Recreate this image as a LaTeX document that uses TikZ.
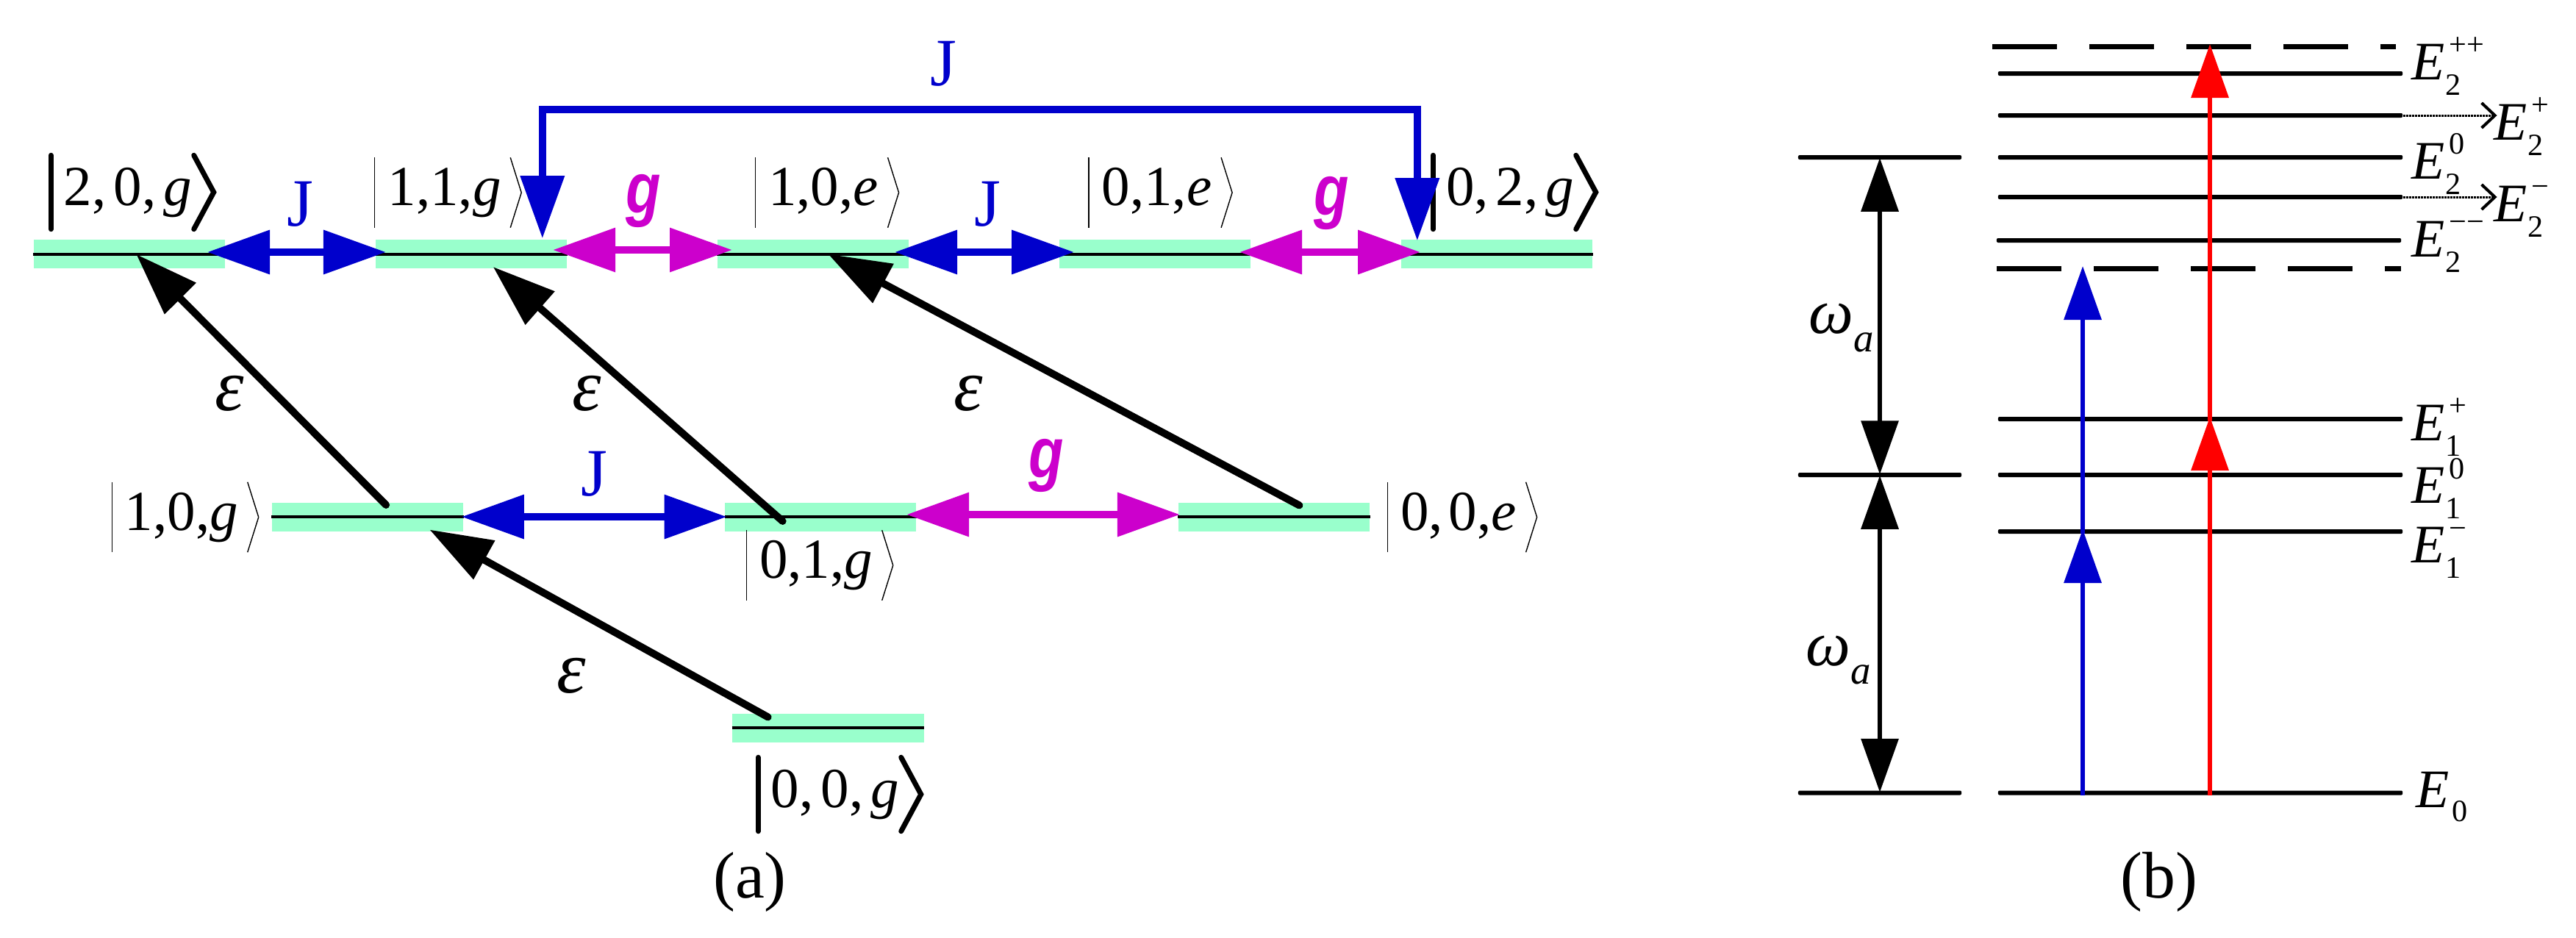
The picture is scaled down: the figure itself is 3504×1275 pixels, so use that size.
\documentclass[tikz,border=0pt]{standalone}
\usepackage{fontspec}
\setmainfont{Liberation Serif}
\usetikzlibrary{arrows.meta,calc}
\newfontfamily\gfamily[FakeStretch=.8]{Liberation Sans}
\definecolor{bandgreen}{HTML}{99FFCC}
\definecolor{jblue}{HTML}{0000CC}
\definecolor{gmagenta}{HTML}{CC00CC}
\newcommand{\ketfont}{\fontsize{21.9}{26}\selectfont}
\newcommand{\capfont}{\fontsize{25.5}{30}\selectfont}
\newcommand{\enfont}{\fontsize{21}{26}\selectfont}
\newcommand{\subfont}{\fontsize{12}{14}\selectfont}
\newcommand{\elev}[2]{\textit{E}\rlap{\kern.01cm\raisebox{-.21cm}{\subfont #1}}\kern.06cm\raisebox{.33cm}{\subfont #2}}
\newcommand{\wlab}{\fontsize{24.5}{28}\selectfont\textit{ω}\raisebox{-.25cm}{\fontsize{15.6}{18}\selectfont\textit{a}}}
\tikzstyle{band} = [fill=bandgreen, rectangle, inner sep=0,
    minimum height=.39cm, minimum width=2.6cm]
\tikzstyle{ket} = [inner xsep=.17cm, inner ysep=0, font=\ketfont, text height=.52cm, text depth=.17cm]
\tikzstyle{thinket} = [ket, minimum height=.94cm]
\tikzstyle{thickket} = [ket, minimum height=.99cm]
\tikzstyle{enline} = [fill=black, rectangle, inner sep=0, rounded corners=.02cm,
    minimum height=.06cm, minimum width=5.5cm]
\tikzstyle{wline} = [enline, minimum width=2.22cm]
\tikzstyle{endash} = [draw, line width=.07cm, dash pattern=on .88cm off .44cm]
\tikzstyle{enlabel} = [anchor=base west, inner sep=0, font=\enfont]
\tikzstyle{jlabel} = [inner sep=0, text=jblue, font=\fontsize{26.2}{30}\selectfont]
\tikzstyle{glabel} = [inner sep=0, text=gmagenta, font=\fontsize{27.6}{32}\selectfont\gfamily\bfseries\itshape]
\tikzstyle{elabel} = [inner sep=0, font=\fontsize{28.5}{32}\selectfont\itshape]
\tikzstyle{caption} = [inner sep=0, font=\capfont]
\tikzstyle{big} = [line width=.1cm, shorten >=-.03cm, shorten <=-.03cm, >={Triangle[length=.85cm,width=.58cm]}]
\tikzstyle{small} = [line width=.065cm, shorten >=-.03cm, shorten <=-.03cm, >={Triangle[length=.73cm,width=.5cm]}]
\tikzstyle{dots} = [line width=.03cm, dash pattern=on .03cm off .01cm,
    >={Straight Barb[length=.18cm,width=.34cm,line width=.04cm]}]

\begin{document}
\begin{tikzpicture}[x=.01cm, y=-.01cm, node distance=4.6475cm]
    \useasboundingbox (0,0) rectangle (3504,1275);
    % (a) bands
    \node [band] (t20) at (176,345.5) {};
    \node [band, right of=t20] (t11) {};
    \node [band, right of=t11] (t10) {};
    \node [band, right of=t10] (t01) {};
    \node [band, right of=t01] (t02) {};
    \node [band] (m10) at (500,703) {};
    \node [band, node distance=6.16cm, right of=m10] (m01) {};
    \node [band, node distance=6.16cm, right of=m01] (m00) {};
    \node [band] (b00) at (1126.5,990) {};
    \foreach \n in {t20,t11,t10,t01,t02,m10,m01,m00,b00}
        \draw [line width=.04cm] (\n.west) -- (\n.east);
    % kets
    \node [thickket] (k20) at (174,261.5) {2,\kern.1cm 0,\kern.1cm\textit{g}};
    \node [thinket] (k11) at (604.5,262) {1,1,\textit{g}};
    \node [thinket] (k10e) at (1120,262) {1,0,\textit{e}};
    \node [thinket] (k01e) at (1573.5,262) {0,1,\textit{e}};
    \node [thickket] (k02) at (2054,261.5) {0,\kern.1cm 2,\kern.1cm\textit{g}};
    \node [thinket] (k10g) at (247,703.5) {1,0,\textit{g}};
    \node [thinket] (k01g) at (1110,769) {0,1,\textit{g}};
    \node [thinket] (k00e) at (1984,703.5) {0,\kern.08cm 0,\textit{e}};
    \node [thickket] (k00g) at (1136,1080.5) {0,\kern.1cm 0,\kern.1cm\textit{g}};
    \foreach \n in {k11,k10e,k01e,k10g,k01g,k00e} {
        \draw [line width=.014cm] (\n.north west) -- (\n.south west);
        \draw [line width=.014cm] ([xshift=-.05cm]\n.north east) -- ([xshift=.1cm]\n.east) -- ([xshift=-.05cm]\n.south east);
    }
    \foreach \n in {k20,k02,k00g} {
        \draw [line width=.07cm, line cap=round] (\n.north west) -- (\n.south west);
        \draw [line width=.07cm, line cap=round] ([xshift=-.15cm]\n.north east) -- ([xshift=.12cm]\n.east) -- ([xshift=-.15cm]\n.south east);
    }
    % (a) couplings
    \draw [big, <->, jblue] ($(t20.center)+(109,-2.5)$) -- ($(t11.center)+(-119,-2.5)$);
    \draw [big, <->, gmagenta] ($(t11.center)+(114,-5.5)$) -- ($(t10.center)+(-113,-5.5)$);
    \draw [big, <->, jblue] ($(t10.center)+(114,-2.5)$) -- ($(t01.center)+(-113,-2.5)$);
    \draw [big, <->, gmagenta] ($(t01.center)+(118,-2.5)$) -- ($(t02.center)+(-107,-2.5)$);
    \draw [big, <->, jblue] (m10.east) -- (m01.west);
    \draw [big, <->, gmagenta] ($(m01.east)+(-11,-3)$) -- ($(m00.west)+(0,-3)$);
    \coordinate (jl) at ($(t11.north east)+(-34,-4)$);
    \coordinate (jr) at ($(t02.north west)+(22.5,-1)$);
    \coordinate (jm) at (1283,149);
    \draw [big, <->, jblue] (jl) |- (jm) -| (jr);
    \draw [big, ->, line cap=round] ($(m10.north)+(23,2)$) -- ($(t20.center)+(11.5,2.5)$);
    \draw [big, ->, line cap=round] ($(m01.center)+(-54,4)$) -- ($(t11.center)+(32,19.5)$);
    \draw [big, ->, line cap=round] ($(m00.center)+(32,-17)$) -- ($(t10.center)+(23,1.5)$);
    \draw [big, ->, line cap=round] ($(b00.center)+(-84.5,-16)$) -- ($(m10.center)+(87,19)$);
    % labels of (a)
    \node [jlabel] (j1) at (1283,87) {J};
    \node [jlabel] (j2) at (408,278) {J};
    \node [jlabel] (j3) at (1343,278) {J};
    \node [jlabel] (j4) at (808,645) {J};
    \node [glabel] (g1) at (875,273) {g};
    \node [glabel] (g2) at (1811,276) {g};
    \node [glabel] (g3) at (1423,633) {g};
    \node [elabel] (e1) at (312,535) {ε};
    \node [elabel] (e2) at (798,535) {ε};
    \node [elabel] (e3) at (1317,535) {ε};
    \node [elabel] (e4) at (777,919) {ε};
    \node [caption] (capa) at (1020,1200) {(a)};
    % (b) levels
    \foreach \n/\y in {e2b/100,e2p/157,e2z/214,e2m/268,e1p/570,e1z/646,e1m/723,e0/1078.5}
        \node [enline] (\n) at (2993,\y) {};
    \node [enline] (e2y) at (2991,327) {};
    \node [wline] (w2) at (2557,214) {};
    \node [wline] (w1) at (2557,646) {};
    \node [wline] (w0) at (2557,1078.5) {};
    \coordinate (dal) at (2710,63);
    \coordinate (dar) at (3259,63);
    \coordinate (dbl) at (2716,365);
    \coordinate (dbr) at (3266,365);
    \draw [endash] (dal) -- (dar);
    \draw [endash] (dbl) -- (dbr);
    % (b) transitions
    \coordinate (bluex) at (2833,0);
    \coordinate (redx) at (3006,0);
    \draw [small, <->] (w2.south) -- (w1.north);
    \draw [small, <->] (w1.south) -- (w0.north);
    \draw [small, ->, jblue] (bluex |- e0) -- (bluex |- e1m);
    \draw [small, ->, jblue] (bluex |- e1m) -- (bluex |- dbl);
    \draw [small, ->, red] (redx |- e0) -- (redx |- e1p);
    \draw [small, ->, red] (redx |- e1p) -- (redx |- dal);
    % (b) labels
    \node [enlabel] (l2a) at (3280,108) {\elev{2}{++}};
    \node [enlabel] (l2p) at (3391.5,190) {\elev{2}{+}};
    \node [enlabel] (l2z) at (3280,243) {\elev{2}{0}};
    \node [enlabel] (l2m) at (3391.5,301) {\elev{2}{−}};
    \node [enlabel] (l2y) at (3280,349) {\elev{2}{−−}};
    \node [enlabel] (l1p) at (3280,599) {\elev{1}{+}};
    \node [enlabel] (l1z) at (3280,684) {\elev{1}{0}};
    \node [enlabel] (l1m) at (3280,765.5) {\elev{1}{−}};
    \node [enlabel] (l0) at (3286,1098) {\textit{E}\rlap{\kern.04cm\raisebox{-.19cm}{\subfont 0}}};
    \draw [dots, ->] (e2p.east) -- ($(l2p.base west)+(5,-33)$);
    \draw [dots, ->] (e2m.east) -- ($(l2m.base west)+(5,-33)$);
    \node [anchor=base west, inner sep=0] (w2l) at (2460,453) {\wlab};
    \node [anchor=base west, inner sep=0] (w1l) at (2456,905) {\wlab};
    \node [caption] (capb) at (2937,1200) {(b)};
\end{tikzpicture}
\end{document}
